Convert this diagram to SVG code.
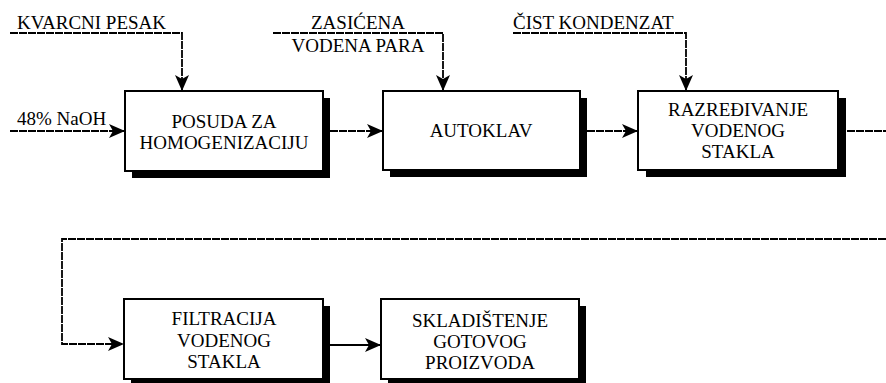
<svg xmlns="http://www.w3.org/2000/svg" width="886" height="383" viewBox="0 0 886 383">
<defs>
<marker id="ah" viewBox="0 0 16 14" refX="15" refY="7" markerWidth="16" markerHeight="14" markerUnits="userSpaceOnUse" orient="auto">
<path d="M0,0 L16,7 L0,14 L4,7 Z" fill="#000"/>
</marker>
</defs>
<rect width="886" height="383" fill="#fff"/>
<g id="connectors" fill="none" stroke="#000" stroke-width="1.8">
<path stroke-dasharray="8 1" marker-end="url(#ah)" d="M10,33 H182 V90"/>
<path stroke-dasharray="8 1" marker-end="url(#ah)" d="M273,33 H443 V90"/>
<path stroke-dasharray="8 1" marker-end="url(#ah)" d="M513,33 H686 V90"/>
<path stroke-dasharray="8 1" marker-end="url(#ah)" d="M10,131 H124"/>
<path stroke-dasharray="8 1" marker-end="url(#ah)" d="M330,131 H382"/>
<path stroke-dasharray="8 1" marker-end="url(#ah)" d="M587,131 H637"/>
<path stroke-dasharray="8 1" d="M847,131 H886"/>
<path stroke-dasharray="8 1" marker-end="url(#ah)" d="M886,239 H62 V344 H123"/>
<path stroke-width="2" marker-end="url(#ah)" d="M330,345 H380"/>
</g>
<g id="labels">
<text font-family="Times New Roman" font-size="19" x="17" y="29">KVARCNI PESAK</text>
<text font-family="Times New Roman" font-size="19" text-anchor="middle" x="358" y="29">ZASIĆENA</text>
<text font-family="Times New Roman" font-size="19" text-anchor="middle" x="358" y="52">VODENA PARA</text>
<text font-family="Times New Roman" font-size="19" x="513" y="29">ČIST KONDENZAT</text>
<text font-family="Times New Roman" font-size="19" x="17" y="125">48% NaOH</text>
</g>
<g id="n1">
<rect fill="#000" x="132" y="98" width="198" height="80"/>
<rect fill="#fff" stroke="#000" stroke-width="2" x="125" y="91" width="198" height="80"/>
<text font-family="Times New Roman" font-size="19" text-anchor="middle" x="224" y="128">POSUDA ZA</text>
<text font-family="Times New Roman" font-size="19" text-anchor="middle" x="224" y="149">HOMOGENIZACIJU</text>
</g>
<g id="n2">
<rect fill="#000" x="390" y="98" width="197" height="79"/>
<rect fill="#fff" stroke="#000" stroke-width="2" x="383" y="91" width="197" height="79"/>
<text font-family="Times New Roman" font-size="19" text-anchor="middle" x="481" y="137">AUTOKLAV</text>
</g>
<g id="n3">
<rect fill="#000" x="646" y="98" width="200" height="79"/>
<rect fill="#fff" stroke="#000" stroke-width="2" x="638" y="91" width="200" height="79"/>
<text font-family="Times New Roman" font-size="19" text-anchor="middle" x="738" y="116">RAZREĐIVANJE</text>
<text font-family="Times New Roman" font-size="19" text-anchor="middle" x="738" y="137">VODENOG</text>
<text font-family="Times New Roman" font-size="19" text-anchor="middle" x="738" y="158">STAKLA</text>
</g>
<g id="n4">
<rect fill="#000" x="131" y="306" width="199" height="80"/>
<rect fill="#fff" stroke="#000" stroke-width="2" x="124" y="299" width="199" height="80"/>
<text font-family="Times New Roman" font-size="19" text-anchor="middle" x="224" y="325">FILTRACIJA</text>
<text font-family="Times New Roman" font-size="19" text-anchor="middle" x="224" y="347">VODENOG</text>
<text font-family="Times New Roman" font-size="19" text-anchor="middle" x="224" y="368">STAKLA</text>
</g>
<g id="n5">
<rect fill="#000" x="388" y="306" width="198" height="80"/>
<rect fill="#fff" stroke="#000" stroke-width="2" x="381" y="299" width="198" height="80"/>
<text font-family="Times New Roman" font-size="19" text-anchor="middle" x="480" y="327">SKLADIŠTENJE</text>
<text font-family="Times New Roman" font-size="19" text-anchor="middle" x="480" y="348">GOTOVOG</text>
<text font-family="Times New Roman" font-size="19" text-anchor="middle" x="480" y="369">PROIZVODA</text>
</g>
</svg>
